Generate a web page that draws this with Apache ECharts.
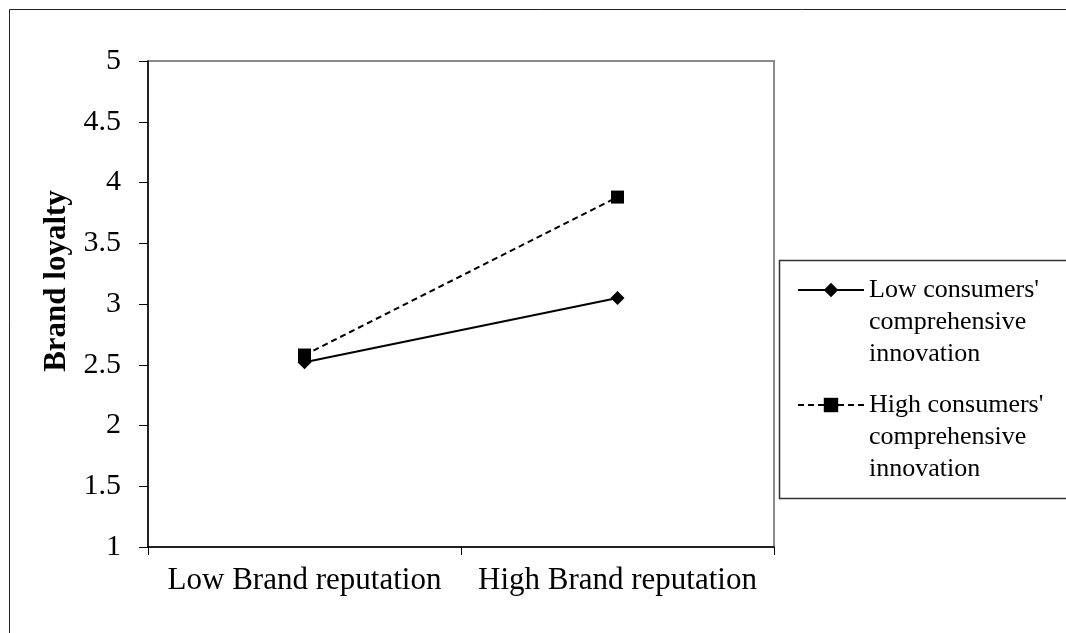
<!DOCTYPE html>
<html>
<head>
<meta charset="utf-8">
<script src="https://cdn.jsdelivr.net/npm/echarts@6/dist/echarts.min.js"></script>
<style>html,body{margin:0;padding:0;background:#fff;}#c{width:1066px;height:633px;}</style>
</head>
<body>
<div id="c"></div>
<script>
const categories = ['Low Brand reputation', 'High Brand reputation'];
const lowInnovation = [2.52, 3.05];
const highInnovation = [2.58, 3.88];
const seriesNames = ["Low consumers' comprehensive innovation", "High consumers' comprehensive innovation"];
const legendLines = [["Low consumers'", 'comprehensive', 'innovation'], ["High consumers'", 'comprehensive', 'innovation']];
const yTicks = [1, 1.5, 2, 2.5, 3, 3.5, 4, 4.5, 5];

const font = '"Liberation Serif", "Times New Roman", serif';
const chart = echarts.init(document.getElementById('c'));
function mkLegend(i, top) {
  return {
    data: [seriesNames[i]],
    orient: 'vertical',
    left: 797,
    top: top,
    padding: 0,
    itemWidth: 66,
    itemHeight: 18,
    itemGap: 0,
    selectedMode: false,
    formatter: function () { return ['\u200b', '\u200b'].concat(legendLines[i]).join('\n'); },
    textStyle: { fontFamily: font, fontSize: 26, color: '#000', lineHeight: 32 }
  };
}
chart.setOption({
  animation: false,
  backgroundColor: '#fff',
  graphic: [
    { type: 'rect', shape: { x: 9.5, y: 9.5, width: 1200, height: 800 }, style: { fill: 'none', stroke: '#222', lineWidth: 1 }, z: 0 },
    { type: 'rect', shape: { x: 779.5, y: 260.5, width: 400, height: 238 }, style: { fill: 'none', stroke: '#333', lineWidth: 1.5 }, z: 0 }
  ],
  grid: { left: 148, right: 292, top: 61, bottom: 86, show: true, borderColor: '#8a8a8a', borderWidth: 2, backgroundColor: 'transparent' },
  legend: [mkLegend(0, 210), mkLegend(1, 325)],
  xAxis: {
    type: 'category',
    data: categories,
    boundaryGap: true,
    axisLine: { lineStyle: { color: '#000', width: 1.5 } },
    axisTick: { show: true, length: 8, inside: false, lineStyle: { color: '#000' }, alignWithLabel: false },
    axisLabel: { fontFamily: font, fontSize: 31, color: '#000', margin: 18, interval: 0 },
    splitLine: { show: false }
  },
  yAxis: {
    type: 'value',
    min: 1, max: 5, interval: 0.5,
    name: 'Brand loyalty',
    nameLocation: 'middle',
    nameGap: 72,
    nameTextStyle: { fontFamily: font, fontSize: 31, fontWeight: 'bold', color: '#000', padding: [0, 0, 0, 46] },
    axisLine: { show: true, lineStyle: { color: '#000', width: 1.5 } },
    axisTick: { show: true, length: 9, lineStyle: { color: '#000' } },
    axisLabel: { fontFamily: font, fontSize: 30, color: '#000', margin: 27, formatter: function (v) { return yTicks.indexOf(v) >= 0 ? String(v) : ''; } },
    splitLine: { show: false }
  },
  series: [
    {
      name: seriesNames[0], type: 'line', data: lowInnovation,
      symbol: 'diamond', symbolSize: 14,
      lineStyle: { color: '#000', width: 2, type: 'solid' },
      itemStyle: { color: '#000' }
    },
    {
      name: seriesNames[1], type: 'line', data: highInnovation,
      symbol: 'rect', symbolSize: 13,
      lineStyle: { color: '#000', width: 2, type: [6, 4] },
      itemStyle: { color: '#000' }
    }
  ]
});
</script>
</body>
</html>
